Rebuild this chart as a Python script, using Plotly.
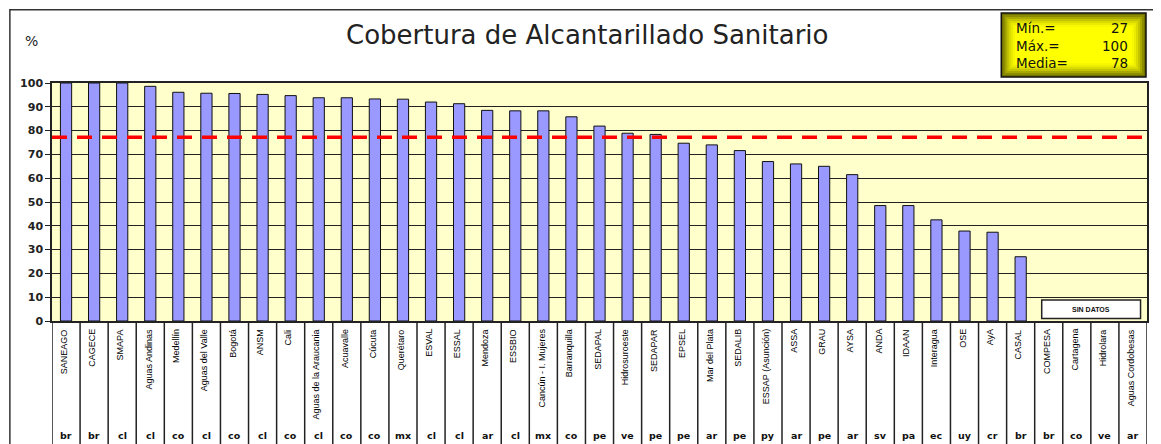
import plotly.graph_objects as go

# ---------------- data ----------------
companies = ["SANEAGO", "CAGECE", "SMAPA", "Aguas Andinas", "Medellín", "Aguas del Valle",
             "Bogotá", "ANSM", "Cali", "Aguas de la Araucania", "Acuavalle", "Cúcuta",
             "Querétaro", "ESVAL", "ESSAL", "Mendoza", "ESSBIO", "Cancún - I. Mujeres",
             "Barranquilla", "SEDAPAL", "Hidrosuroeste", "SEDAPAR", "EPSEL", "Mar del Plata",
             "SEDALIB", "ESSAP (Asunción)", "ASSA", "GRAU", "AYSA", "ANDA", "IDAAN",
             "Interagua", "OSE", "AyA", "CASAL", "COMPESA", "Cartagena", "Hidrolara",
             "Aguas Cordobesas"]
countries = ["br", "br", "cl", "cl", "co", "cl", "co", "cl", "co", "cl", "co", "co", "mx",
             "cl", "cl", "ar", "cl", "mx", "co", "pe", "ve", "pe", "pe", "ar", "pe", "py",
             "ar", "pe", "ar", "sv", "pa", "ec", "uy", "cr", "br", "br", "co", "ve", "ar"]
coverage = [100, 100, 100, 98.6, 96.1, 95.7, 95.6, 95.2, 94.7, 93.8, 93.8, 93.3, 93.2,
            92.0, 91.3, 88.5, 88.3, 88.3, 85.8, 81.9, 78.9, 78.4, 74.7, 74.0, 71.6, 67.0,
            66.0, 65.0, 61.5, 48.5, 48.5, 42.5, 37.8, 37.3, 27.0,
            None, None, None, None]
stat_labels = ["Mín.=", "Máx.=", "Media="]
stat_values = ["27", "100", "78"]
media_line = 77.2
y_ticks = [0, 10, 20, 30, 40, 50, 60, 70, 80, 90, 100]
title_text = "Cobertura de Alcantarillado Sanitario"
no_data_text = "SIN DATOS"

# ---------------- layout geometry (page pixels; body has 8px margin) ----------------
OFF = 8
W, H = 1161 - OFF, 444 - OFF
PL, PR, PT, PB = 51, 1148, 83, 321          # plot area in page pixels
ML, MR, MT, MB = PL - OFF, W - (PR - OFF), PT - OFF, H - (PB - OFF)
PW = PR - PL
PH = PB - PT


def px_x(px):
    return (px - PL) / PW


def px_y(py):
    return (PB - py) / PH


n = len(companies)
fig = go.Figure()
fig.add_trace(go.Bar(
    x=list(range(n)), y=coverage, width=0.40,
    marker=dict(color="#9999FF", line=dict(color="#111111", width=1)),
    hoverinfo="y", showlegend=False,
))

shapes = []
annotations = []

# outer frame
shapes.append(dict(type="rect", xref="paper", yref="paper",
                   x0=px_x(8.8), x1=px_x(1158), y0=px_y(450), y1=px_y(9.8),
                   line=dict(color="#333333", width=1.5), fillcolor="rgba(0,0,0,0)",
                   layer="below"))
# table separators below plot
for k in range(n + 1):
    shapes.append(dict(type="line", xref="x", yref="paper",
                       x0=k - 0.5, x1=k - 0.5, y0=0, y1=px_y(450),
                       line=dict(color="#222222", width=1.5)))

# mean dashed line
shapes.append(dict(type="line", xref="paper", yref="y", x0=0, x1=1,
                   y0=media_line, y1=media_line, layer="above",
                   line=dict(color="#FF0000", width=3.5, dash="15px,10px")))

# SIN DATOS box
shapes.append(dict(type="rect", xref="x", yref="y", x0=34.75, x1=38.27, y0=1.1, y1=8.8,
                   fillcolor="white", line=dict(color="#222222", width=1.5), layer="above"))
annotations.append(dict(text=no_data_text, x=36.5, y=4.95, xref="x", yref="y",
                        showarrow=False, font=dict(family="Liberation Sans, Arial", size=7,
                                                   color="#111111", weight="bold")))

# stats box with pseudo gradient
bx0, by0, bx1, by1 = 1002, 13, 1147, 77
grad = ["#707000", "#8C8C00", "#A8A800", "#C4C400", "#DADA00", "#ECEC00", "#F8F800", "#FFFF00"]
for i, c in enumerate(grad):
    ins = i * 2
    shapes.append(dict(type="rect", xref="paper", yref="paper",
                       x0=px_x(bx0 + ins), x1=px_x(bx1 - ins),
                       y0=px_y(by1 - ins), y1=px_y(by0 + ins),
                       fillcolor=c, line=dict(width=0), layer="above"))
shapes.append(dict(type="rect", xref="paper", yref="paper",
                   x0=px_x(bx0), x1=px_x(bx1), y0=px_y(by1), y1=px_y(by0),
                   fillcolor="rgba(0,0,0,0)", line=dict(color="#111111", width=1.5),
                   layer="above"))
stat_font = dict(family="DejaVu Sans, Arial", size=13.5, color="#111111")
for lab, val, yy in zip(stat_labels, stat_values, [28, 46, 63]):
    annotations.append(dict(text=lab, x=px_x(1015), y=px_y(yy), xref="paper", yref="paper",
                            xanchor="left", yanchor="middle", showarrow=False, font=stat_font))
    annotations.append(dict(text=val, x=px_x(1131), y=px_y(yy), xref="paper", yref="paper",
                            xanchor="right", yanchor="middle", showarrow=False, font=stat_font))

# title and % label
annotations.append(dict(text=title_text, x=px_x(587), y=px_y(35), xref="paper", yref="paper",
                        xanchor="center", yanchor="middle", showarrow=False,
                        font=dict(family="DejaVu Sans, Arial", size=26, color="#222222")))
annotations.append(dict(text="%", x=px_x(30), y=px_y(41), xref="paper", yref="paper",
                        xanchor="center", yanchor="middle", showarrow=False,
                        font=dict(family="DejaVu Sans, Arial", size=14, color="#222222")))

# category labels
for i, (name, cc) in enumerate(zip(companies, countries)):
    annotations.append(dict(text=name, x=i - 0.08, y=px_y(327), xref="x", yref="paper",
                            textangle=-90, xanchor="center", yanchor="top", showarrow=False,
                            font=dict(family="Liberation Sans, Arial", size=9, color="#000000")))
    annotations.append(dict(text=cc, x=i, y=px_y(435), xref="x", yref="paper",
                            xanchor="center", yanchor="middle", showarrow=False,
                            font=dict(family="DejaVu Sans, Arial", size=9.5, color="#111111",
                                      weight="bold")))

fig.update_layout(
    width=W, height=H,
    margin=dict(l=ML, r=MR, t=MT, b=MB, pad=0),
    paper_bgcolor="white", plot_bgcolor="#FFFFCC",
    shapes=shapes, annotations=annotations,
    showlegend=False,
    xaxis=dict(type="linear", range=[-0.5, n - 0.5], showticklabels=False, showgrid=False,
               zeroline=False, showline=True, linecolor="#222222", linewidth=1.5, mirror=True,
               ticks=""),
    yaxis=dict(range=[0, 100], tickvals=y_ticks, showgrid=True, gridcolor="#222222",
               gridwidth=1, zeroline=False, showline=True, linecolor="#222222", linewidth=1.5,
               mirror=True, ticks="outside", ticklen=5, tickcolor="#222222",
               tickfont=dict(family="DejaVu Sans, Arial", size=11, color="#222222",
                             weight="bold")),
)

fig.write_html("out.html")
